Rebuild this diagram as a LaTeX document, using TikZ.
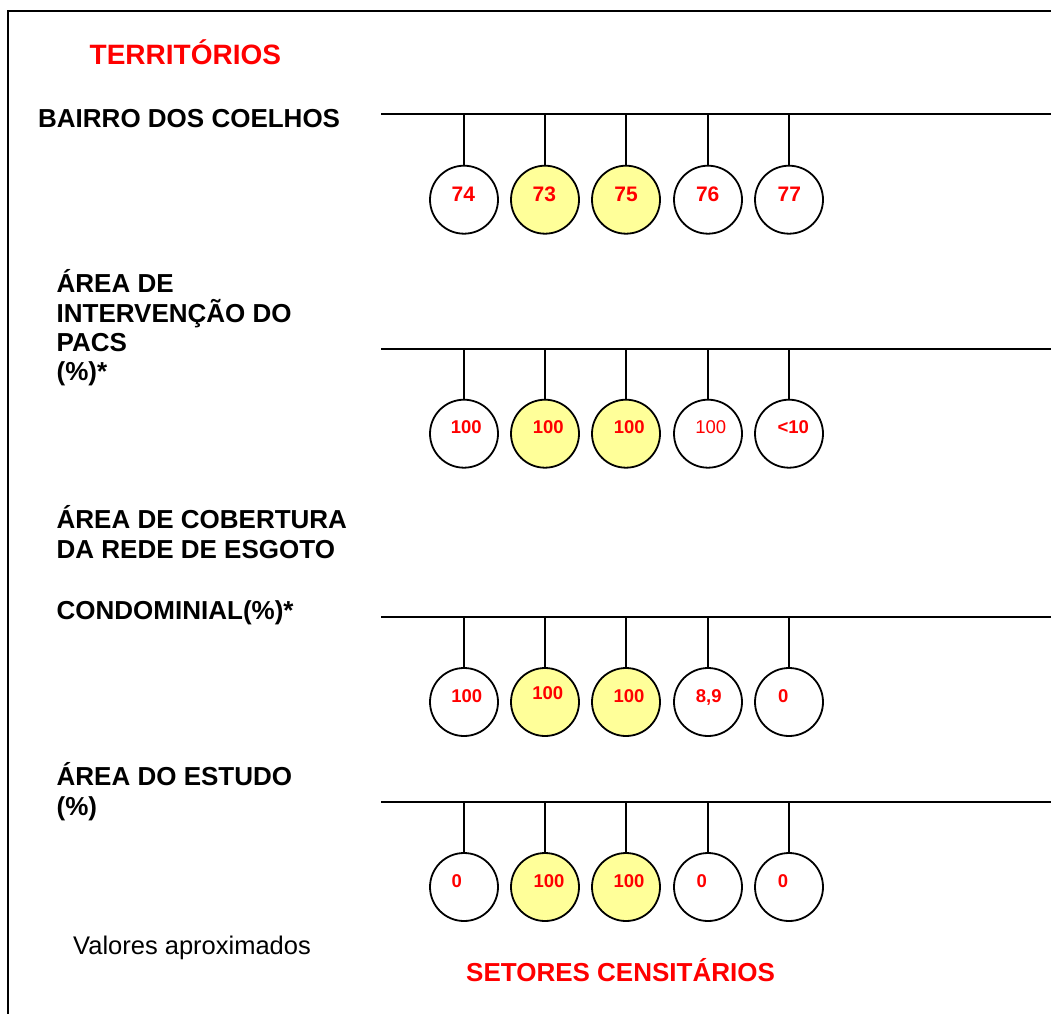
\documentclass[tikz,border=0pt]{standalone}
\usepackage{fontspec}
\setmainfont{Liberation Sans}
\definecolor{hilite}{RGB}{255,255,153}
\begin{document}
\begin{tikzpicture}[x=1pt,y=-1pt,
  lbl/.style={anchor=base west, inner sep=0, font=\fontsize{26}{30}\selectfont\bfseries},
  redlbl/.style={lbl, text=red},
  plainlbl/.style={anchor=base west, inner sep=0, font=\fontsize{25.5}{30}\selectfont},
  sector/.style={circle, draw, line width=1.8pt, minimum size=68pt, inner sep=0, fill=white},
  hl/.style={sector, fill=hilite},
  num/.style={anchor=base, inner sep=0, text=red, font=\fontsize{18.5}{21}\selectfont\bfseries},
  numreg/.style={num, font=\fontsize{18.5}{21}\selectfont},
  bignum/.style={num, font=\fontsize{21}{24}\selectfont\bfseries},
  conn/.style={line width=2pt},
  frame/.style={line width=2pt}]
\useasboundingbox (0,0) rectangle (1051,1014);
% frame
\draw[frame] (1051,11) coordinate (fr) -- (8,11) coordinate (fc) -- (8,1014) coordinate (fb);
% rows of sectors
\foreach \r/\y/\cy in {1/114/199.7, 2/349/433.7, 3/617/702, 4/802/887} {
  \draw[conn] (381,\y) coordinate (h\r s) -- (1051,\y) coordinate (h\r e);
  \foreach \c/\x/\st in {1/464/sector, 2/545/hl, 3/626/hl, 4/708/sector, 5/789/sector} {
    \node[\st] (c\r\c) at (\x,\cy) {};
    \draw[conn] (c\r\c.north) -- (c\r\c.north |- h\r s);
  }
}
% row 1 numbers
\node[bignum] (n11) at (463.3,201.5) {74};
\node[bignum] (n12) at (544.3,201.5) {73};
\node[bignum] (n13) at (626,201.5) {75};
\node[bignum] (n14) at (707.7,201.5) {76};
\node[bignum] (n15) at (789.3,201.5) {77};
% row 2 numbers
\node[num] (n21) at (466.3,433.8) {100};
\node[num] (n22) at (548.3,433.8) {100};
\node[num] (n23) at (629.3,433.8) {100};
\node[numreg] (n24) at (710.7,433.8) {100};
\node[num] (n25) at (793.3,433.8) {<10};
% row 3 numbers
\node[num] (n31) at (466.7,702.8) {100};
\node[num] (n32) at (547.7,699.8) {100};
\node[num] (n33) at (629,702.8) {100};
\node[num] (n34) at (708.7,702.8) {8,9};
\node[num] (n35) at (783.3,702.8) {0};
% row 4 numbers
\node[num] (n41) at (456.7,887.5) {0};
\node[num] (n42) at (549,887.5) {100};
\node[num] (n43) at (629,887.5) {100};
\node[num] (n44) at (701.7,887.5) {0};
\node[num] (n45) at (783,887.5) {0};
% labels
\node[redlbl, font=\fontsize{28}{32}\selectfont\bfseries] (title) at (89.5,65) {TERRITÓRIOS};
\node[lbl] (l1) at (38,128) {BAIRRO DOS COELHOS};
\node[lbl] (l2a) at (56.5,292) {ÁREA DE};
\node[lbl] (l2b) at (56.5,322) {INTERVENÇÃO DO};
\node[lbl] (l2c) at (56.5,351) {PACS};
\node[lbl] (l2d) at (56.5,380) {(\%)*};
\node[lbl] (l3a) at (56.5,528) {ÁREA DE COBERTURA};
\node[lbl] (l3b) at (56.5,558) {DA REDE DE ESGOTO};
\node[lbl] (l3c) at (56.5,619) {CONDOMINIAL(\%)*};
\node[lbl] (l4a) at (56.5,785) {ÁREA DO ESTUDO};
\node[lbl] (l4b) at (56.5,815) {(\%)};
\node[plainlbl] (note) at (73,954) {Valores aproximados};
\node[redlbl] (foot) at (466,981) {SETORES CENSITÁRIOS};
\end{tikzpicture}
\end{document}
